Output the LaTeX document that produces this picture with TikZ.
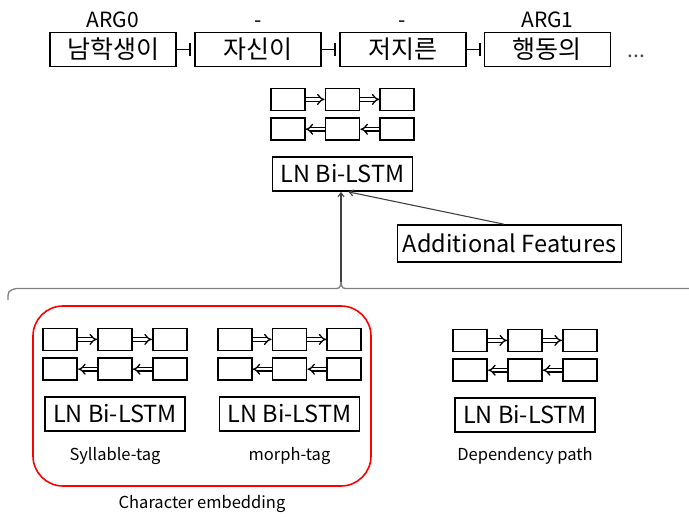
\documentclass[tikz,border=0pt]{standalone}
\usepackage{fontspec}
\setmainfont{Noto Sans CJK KR}
\usepackage{tikz}
\usetikzlibrary{arrows.meta,positioning}

\begin{document}
\begin{tikzpicture}[
  x=1pt, y=1pt,
  node distance=17pt,
  word/.style={draw, line width=1.8pt, minimum width=126pt, minimum height=34pt,
               inner sep=0pt, font=\fontsize{25}{25}\selectfont},
  tag/.style={inner sep=0pt, text height=15pt, text depth=0pt, font=\fontsize{21}{21}\selectfont},
  cell/.style={draw, line width=1.8pt, minimum width=34pt, minimum height=22pt, inner sep=0pt},
  lstm/.style={draw, line width=1.8pt, minimum width=140pt, minimum height=34pt,
               inner sep=0pt, font=\fontsize{23.5}{23.5}\selectfont},
  lbl/.style={inner sep=0pt, font=\fontsize{16.5}{16.5}\selectfont},
  grp/.style={draw=red, line width=1.6pt, rounded corners=30pt,
              minimum width=338pt, minimum height=180pt},
  dbl/.style={double, double distance=2.4pt, line width=1.3pt, -{Implies}},
  link/.style={line width=1.8pt, shorten >=3pt, -{Bar[width=13pt, line width=1.8pt]}},
  up/.style={draw=black!75, line width=1.1pt, -{Straight Barb[length=4pt, width=6pt]}}
]
\useasboundingbox (0,0) rectangle (689,-517);

% input words
\node[word] (w1) at (113,-49.5) {남학생이};
\node[word, right=of w1] (w2) {자신이};
\node[word, right=of w2] (w3) {저지른};
\node[word, right=of w3] (w4) {행동의};
\node[tag, right=16pt of w4, text=black!70] (more) {...};
\draw[link] (w1) -- (w2);
\draw[link] (w2) -- (w3);
\draw[link] (w3) -- (w4);

% argument tags
\node[tag, above=4pt of w1] {ARG0};
\node[tag, above=4pt of w2] {-};
\node[tag, above=4pt of w3] {-};
\node[tag, above=4pt of w4] {ARG1};

% LN Bi-LSTM blocks with their cells
\foreach \g/\cx/\cy in {top/342.5/-174, syl/115/-414, mor/289.5/-414, dep/525/-415} {
  \node[lstm] (\g) at (\cx,\cy) {LN Bi-LSTM};
  \node[cell, above=15pt of \g] (\g-b2) {};
  \node[cell, left=19pt of \g-b2] (\g-b1) {};
  \node[cell, right=19pt of \g-b2] (\g-b3) {};
  \node[cell, above=6pt of \g-b1] (\g-a1) {};
  \node[cell, above=6pt of \g-b2] (\g-a2) {};
  \node[cell, above=6pt of \g-b3] (\g-a3) {};
  \draw[dbl] (\g-a1.east) -- (\g-a2.west);
  \draw[dbl] (\g-a2.east) -- (\g-a3.west);
  \draw[dbl] (\g-b3.west) -- (\g-b2.east);
  \draw[dbl] (\g-b2.west) -- (\g-b1.east);
}

% additional features
\node[lstm, minimum width=224pt, minimum height=37pt] (feat) at (509.5,-243.5) {Additional Features};

% brace over the lower part
\coordinate (tip) at (341,-282);
\draw[black!50, line width=1.3pt]
  (8,-300) .. controls (8,-291) .. (16,-288.5) -- (333,-288.5)
  .. controls (340,-288.5) .. (tip) .. controls (342,-288.5) .. (349,-288.5) -- (689,-288.5);
\draw[up] (tip) -- (top.south -| tip);
\draw[up] ([xshift=-6pt]feat.north) -- ([xshift=6pt]top.south);

% character embedding group
\node[grp] (chr) at (202,-396) {};
\node[lbl, below=15pt of syl] {Syllable-tag};
\node[lbl, below=15pt of mor] {morph-tag};
\node[lbl, below=14pt of dep] {Dependency path};
\node[lbl, below=8pt of chr] {Character embedding};
\end{tikzpicture}
\end{document}
